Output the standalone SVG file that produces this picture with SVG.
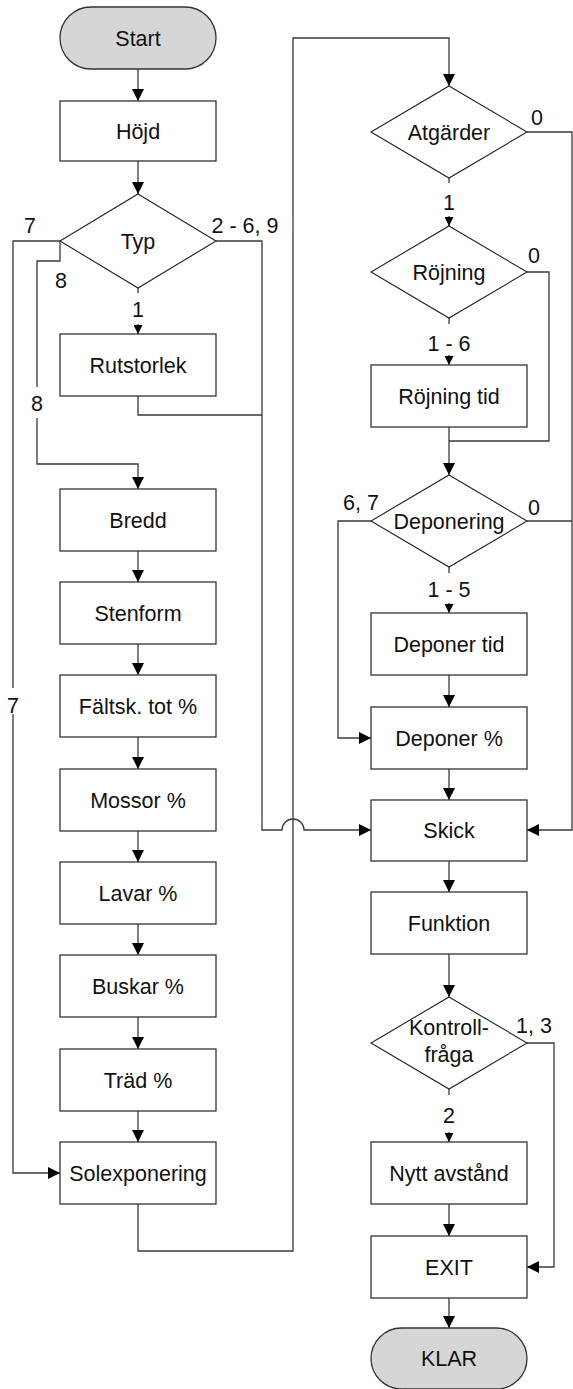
<svg xmlns="http://www.w3.org/2000/svg" width="573" height="1389" viewBox="0 0 573 1389">
<style>
.box{fill:#fff;stroke:#333;stroke-width:1.3}
.term{fill:#d6d6d6;stroke:#333;stroke-width:1.3}
.dia{fill:#fff;stroke:#222;stroke-width:1.1}
.t{font-family:"Liberation Sans",Arial,sans-serif;font-size:21.5px;fill:#111;text-anchor:middle}
.lbl{font-family:"Liberation Sans",Arial,sans-serif;font-size:21.5px;fill:#111;text-anchor:middle}
.c{fill:none;stroke:#3a3a3a;stroke-width:1.3}
.a{marker-end:url(#big)}
.s{marker-end:url(#small)}
</style>
<defs>
<marker id="big" markerUnits="userSpaceOnUse" markerWidth="12" markerHeight="12" viewBox="0 0 12 12" refX="12" refY="6" orient="auto">
<path d="M0,0 L12,6 L0,12 z" fill="#000"/>
</marker>
<marker id="small" markerUnits="userSpaceOnUse" markerWidth="9" markerHeight="9" viewBox="0 0 9 9" refX="9" refY="4.5" orient="auto">
<path d="M0,0 L9,4.5 L0,9 z" fill="#000"/>
</marker>
</defs>
<rect width="573" height="1389" fill="#fff"/>

<g id="connectors">
<path class="c a" d="M138,69 V101"/>
<path class="c a" d="M138,161 V194"/>
<path class="c" d="M138,288 V293"/>
<path class="c s" d="M138,324 V334"/>
<path class="c" d="M60,241 H13 V688"/>
<path class="c a" d="M13,714 V1173 H60"/>
<path class="c" d="M60,241 V261 H37 V387"/>
<path class="c a" d="M37,418 V464 H138 V489"/>
<path class="c a" d="M216,241 H262 V830 H282 A11,11 0 0 1 304,830 H371"/>
<path class="c" d="M138,396 V415 H262"/>
<path class="c a" d="M138,551 V582"/>
<path class="c a" d="M138,644 V675"/>
<path class="c a" d="M138,737 V769"/>
<path class="c a" d="M138,831 V862"/>
<path class="c a" d="M138,924 V955"/>
<path class="c a" d="M138,1017 V1049"/>
<path class="c a" d="M138,1111 V1142"/>
<path class="c a" d="M138,1204 V1251 H293 V38 H449 V86"/>
<path class="c" d="M449,178 V183"/>
<path class="c s" d="M449,216 V226"/>
<path class="c" d="M449,318 V324"/>
<path class="c s" d="M449,355 V365"/>
<path class="c a" d="M449,427 V475"/>
<path class="c" d="M527,272 H549 V441 H449"/>
<path class="c a" d="M527,132 H572 V830 H527"/>
<path class="c" d="M527,521 H572"/>
<path class="c a" d="M371,521 H338 V738 H371"/>
<path class="c" d="M449,567 V573"/>
<path class="c s" d="M449,603 V613"/>
<path class="c a" d="M449,675 V707"/>
<path class="c a" d="M449,769 V800"/>
<path class="c a" d="M449,861 V892"/>
<path class="c a" d="M449,954 V997"/>
<path class="c" d="M449,1089 V1095"/>
<path class="c s" d="M449,1132 V1142"/>
<path class="c a" d="M527,1043 H554 V1267 H527"/>
<path class="c a" d="M449,1204 V1236"/>
<path class="c a" d="M449,1298 V1328"/>
</g>

<g id="labels">
<text class="lbl" x="30" y="233">7</text>
<text class="lbl" x="245" y="233">2 - 6, 9</text>
<text class="lbl" x="61" y="288">8</text>
<text class="lbl" x="138" y="317">1</text>
<text class="lbl" x="37" y="411">8</text>
<text class="lbl" x="13" y="713">7</text>
<text class="lbl" x="537" y="125">0</text>
<text class="lbl" x="449" y="210">1</text>
<text class="lbl" x="534" y="263">0</text>
<text class="lbl" x="449" y="351">1 - 6</text>
<text class="lbl" x="361" y="510">6, 7</text>
<text class="lbl" x="534" y="515">0</text>
<text class="lbl" x="449" y="597">1 - 5</text>
<text class="lbl" x="534" y="1033">1, 3</text>
<text class="lbl" x="449" y="1123">2</text>
</g>

<g id="start"><rect class="term" x="60" y="7" width="156" height="62" rx="31"/><text class="t" x="138" y="45.5">Start</text></g>
<g id="hojd"><rect class="box" x="60" y="101" width="156" height="60"/><text class="t" x="138" y="138.5">Höjd</text></g>
<g id="typ"><polygon class="dia" points="138,194 216,241 138,288 60,241"/><text class="t" x="138" y="249">Typ</text></g>
<g id="rutstorlek"><rect class="box" x="60" y="334" width="156" height="62"/><text class="t" x="138" y="372.5">Rutstorlek</text></g>
<g id="bredd"><rect class="box" x="60" y="489" width="156" height="62"/><text class="t" x="138" y="527.5">Bredd</text></g>
<g id="stenform"><rect class="box" x="60" y="582" width="156" height="62"/><text class="t" x="138" y="620.5">Stenform</text></g>
<g id="faltsk"><rect class="box" x="60" y="675" width="156" height="62"/><text class="t" x="138" y="713.5">Fältsk. tot %</text></g>
<g id="mossor"><rect class="box" x="60" y="769" width="156" height="62"/><text class="t" x="138" y="807.5">Mossor %</text></g>
<g id="lavar"><rect class="box" x="60" y="862" width="156" height="62"/><text class="t" x="138" y="900.5">Lavar %</text></g>
<g id="buskar"><rect class="box" x="60" y="955" width="156" height="62"/><text class="t" x="138" y="993.5">Buskar %</text></g>
<g id="trad"><rect class="box" x="60" y="1049" width="156" height="62"/><text class="t" x="138" y="1087.5">Träd %</text></g>
<g id="solexponering"><rect class="box" x="60" y="1142" width="156" height="62"/><text class="t" x="138" y="1180.5">Solexponering</text></g>

<g id="atgarder"><polygon class="dia" points="449,86 527,132 449,178 371,132"/><text class="t" x="449" y="140">Atgärder</text></g>
<g id="rojning"><polygon class="dia" points="449,226 527,272 449,318 371,272"/><text class="t" x="449" y="280">Röjning</text></g>
<g id="rojningtid"><rect class="box" x="371" y="365" width="156" height="62"/><text class="t" x="449" y="403.5">Röjning tid</text></g>
<g id="deponering"><polygon class="dia" points="449,475 527,521 449,567 371,521"/><text class="t" x="449" y="529">Deponering</text></g>
<g id="deponertid"><rect class="box" x="371" y="613" width="156" height="62"/><text class="t" x="449" y="651.5">Deponer tid</text></g>
<g id="deponerpct"><rect class="box" x="371" y="707" width="156" height="62"/><text class="t" x="449" y="745.5">Deponer %</text></g>
<g id="skick"><rect class="box" x="371" y="800" width="156" height="61"/><text class="t" x="449" y="838">Skick</text></g>
<g id="funktion"><rect class="box" x="371" y="892" width="156" height="62"/><text class="t" x="449" y="930.5">Funktion</text></g>
<g id="kontroll"><polygon class="dia" points="449,997 527,1043 449,1089 371,1043"/><text class="t" x="449" y="1035">Kontroll-</text><text class="t" x="449" y="1062">fråga</text></g>
<g id="nytt"><rect class="box" x="371" y="1142" width="156" height="62"/><text class="t" x="449" y="1180.5">Nytt avstånd</text></g>
<g id="exit"><rect class="box" x="371" y="1236" width="156" height="62"/><text class="t" x="449" y="1274.5">EXIT</text></g>
<g id="klar"><rect class="term" x="371" y="1328" width="156" height="61" rx="30.5"/><text class="t" x="449" y="1366">KLAR</text></g>
</svg>
